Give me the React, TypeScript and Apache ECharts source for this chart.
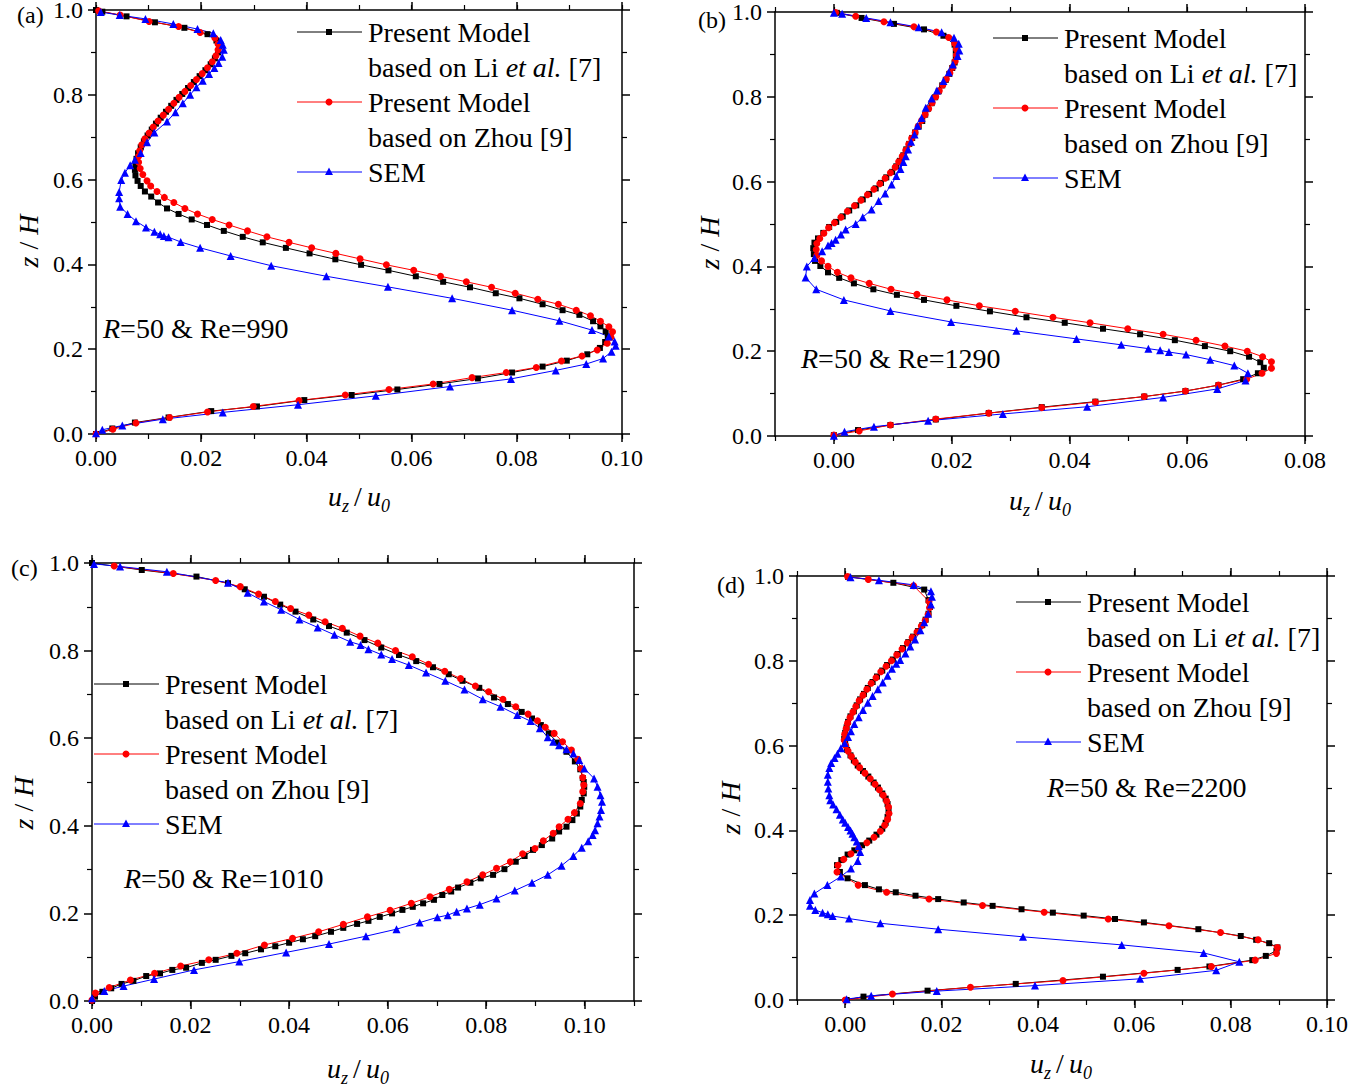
import React, { useEffect, useRef } from "react";
import * as echarts from "echarts";

const FONT = "'Liberation Serif', 'Times New Roman', serif";
const BLACK = "#000000";
const RED = "#ff0000";
const BLUE = "#0000ff";

// ---------- tick labels ----------
const zTicks = [0, 0.2, 0.4, 0.6, 0.8, 1.0];
const xTicksA = [0, 0.02, 0.04, 0.06, 0.08, 0.1];
const xTicksB = [0, 0.02, 0.04, 0.06, 0.08];
const xTicksC = [0, 0.02, 0.04, 0.06, 0.08, 0.1];
const xTicksD = [0, 0.02, 0.04, 0.06, 0.08, 0.1];

// ---------- series names ----------
const seriesNames = ["Present Model based on Li et al. [7]", "Present Model based on Zhou [9]", "SEM"];
const captions = ["R=50 & Re=990", "R=50 & Re=1290", "R=50 & Re=1010", "R=50 & Re=2200"];

// ---------- data: [u_z/u_0, z/H] ----------
const aLi = [[0,0],[0.0031,0.013],[0.0074,0.027],[0.0138,0.039],[0.0219,0.054],[0.0306,0.065],[0.0396,0.08],[0.0486,0.092],[0.0573,0.105],[0.0653,0.118],[0.0726,0.131],[0.0791,0.145],[0.0849,0.159],[0.0895,0.173],[0.0934,0.188],[0.0958,0.203],[0.0968,0.217],[0.0973,0.23],[0.0969,0.242],[0.0959,0.254],[0.0945,0.266],[0.0919,0.281],[0.0887,0.292],[0.0849,0.306],[0.0805,0.32],[0.076,0.332],[0.0711,0.346],[0.066,0.359],[0.0608,0.372],[0.0556,0.386],[0.0504,0.399],[0.0455,0.412],[0.0406,0.426],[0.0361,0.439],[0.0317,0.452],[0.0279,0.465],[0.0243,0.479],[0.0211,0.493],[0.0182,0.506],[0.0157,0.519],[0.0135,0.532],[0.0118,0.546],[0.0105,0.56],[0.0093,0.572],[0.0085,0.585],[0.0079,0.597],[0.0075,0.61],[0.0074,0.623],[0.0075,0.636],[0.0077,0.649],[0.008,0.662],[0.0085,0.676],[0.0091,0.69],[0.0098,0.704],[0.0106,0.718],[0.0114,0.732],[0.0123,0.746],[0.0133,0.76],[0.0143,0.774],[0.0153,0.788],[0.0164,0.802],[0.0175,0.816],[0.0186,0.83],[0.0197,0.844],[0.0208,0.858],[0.0218,0.872],[0.0226,0.886],[0.0232,0.9],[0.0234,0.914],[0.0229,0.928],[0.0212,0.943],[0.0168,0.958],[0.0112,0.971],[0.0058,0.985],[0.0012,0.996],[0,1]];
const aZhou = [[0,0],[0.0032,0.011],[0.0076,0.026],[0.014,0.039],[0.0212,0.052],[0.0299,0.065],[0.0386,0.079],[0.0474,0.092],[0.0557,0.105],[0.0641,0.118],[0.0715,0.133],[0.078,0.145],[0.0837,0.157],[0.0885,0.172],[0.0924,0.184],[0.0953,0.198],[0.0972,0.214],[0.0979,0.228],[0.0982,0.241],[0.0975,0.253],[0.0959,0.266],[0.094,0.279],[0.0913,0.292],[0.0879,0.306],[0.084,0.318],[0.0797,0.332],[0.0752,0.346],[0.0704,0.359],[0.0655,0.372],[0.0604,0.386],[0.0552,0.399],[0.0502,0.413],[0.0456,0.426],[0.041,0.439],[0.0367,0.452],[0.0325,0.465],[0.0288,0.479],[0.0253,0.493],[0.0221,0.506],[0.0193,0.519],[0.0169,0.532],[0.0148,0.546],[0.013,0.558],[0.0116,0.572],[0.0104,0.585],[0.0097,0.597],[0.0089,0.612],[0.0084,0.626],[0.0081,0.641],[0.0081,0.655],[0.0083,0.668],[0.0087,0.682],[0.0093,0.696],[0.0101,0.71],[0.0109,0.724],[0.0118,0.738],[0.0128,0.752],[0.0138,0.766],[0.0148,0.78],[0.0158,0.794],[0.0169,0.808],[0.018,0.822],[0.0191,0.836],[0.0202,0.85],[0.0212,0.864],[0.0221,0.878],[0.0228,0.892],[0.0232,0.906],[0.0232,0.92],[0.0226,0.934],[0.0198,0.947],[0.0157,0.961],[0.0101,0.973],[0.0046,0.988],[0.0005,0.998]];
const aSem = [[0,0.002],[0.0012,0.01],[0.005,0.02],[0.0127,0.035],[0.0241,0.051],[0.0384,0.069],[0.0532,0.09],[0.0673,0.112],[0.0789,0.13],[0.0874,0.15],[0.0932,0.165],[0.0964,0.178],[0.098,0.194],[0.0988,0.208],[0.0986,0.218],[0.0975,0.23],[0.0943,0.245],[0.0881,0.267],[0.0791,0.292],[0.0677,0.32],[0.0555,0.347],[0.0438,0.372],[0.0333,0.397],[0.0256,0.42],[0.0198,0.439],[0.0161,0.453],[0.0138,0.464],[0.0129,0.467],[0.0122,0.471],[0.0111,0.477],[0.0095,0.487],[0.0076,0.502],[0.006,0.519],[0.0046,0.536],[0.0044,0.556],[0.0044,0.571],[0.0048,0.599],[0.0055,0.616],[0.0065,0.634],[0.0074,0.647],[0.0085,0.663],[0.0097,0.688],[0.0111,0.711],[0.0135,0.737],[0.0151,0.759],[0.0165,0.78],[0.0179,0.8],[0.0191,0.818],[0.0203,0.833],[0.0215,0.849],[0.0225,0.863],[0.0233,0.875],[0.024,0.89],[0.0243,0.906],[0.0241,0.918],[0.0237,0.929],[0.0223,0.945],[0.0193,0.955],[0.0147,0.967],[0.0094,0.979],[0.0045,0.988],[0.0009,0.995]];

const bLi = [[0,0.002],[0.0041,0.014],[0.0096,0.026],[0.0173,0.039],[0.0263,0.054],[0.0353,0.068],[0.0444,0.081],[0.0527,0.093],[0.0597,0.106],[0.0653,0.12],[0.0695,0.134],[0.072,0.148],[0.073,0.161],[0.0724,0.174],[0.0705,0.187],[0.0673,0.2],[0.063,0.212],[0.0579,0.226],[0.052,0.24],[0.0457,0.253],[0.0392,0.267],[0.0327,0.28],[0.0265,0.294],[0.0208,0.307],[0.0153,0.321],[0.0107,0.333],[0.0067,0.346],[0.0034,0.36],[0.0009,0.373],[-0.001,0.386],[-0.0023,0.401],[-0.0032,0.413],[-0.0034,0.429],[-0.0035,0.443],[-0.0033,0.456],[-0.0027,0.466],[-0.0018,0.479],[-0.0008,0.493],[0.0004,0.505],[0.0015,0.518],[0.0026,0.532],[0.0038,0.544],[0.0049,0.558],[0.006,0.571],[0.0071,0.584],[0.008,0.597],[0.0089,0.61],[0.0099,0.623],[0.0106,0.636],[0.0112,0.649],[0.0118,0.662],[0.0123,0.676],[0.0128,0.689],[0.0133,0.703],[0.0138,0.716],[0.0144,0.73],[0.015,0.743],[0.0155,0.758],[0.016,0.772],[0.0166,0.785],[0.0172,0.799],[0.0178,0.813],[0.0184,0.827],[0.019,0.84],[0.0196,0.854],[0.0201,0.868],[0.0205,0.881],[0.0207,0.895],[0.0207,0.909],[0.0205,0.923],[0.0186,0.944],[0.0153,0.959],[0.0102,0.972],[0.0047,0.986],[0.0005,0.998]];
const bZhou = [[0,0.002],[0.0043,0.012],[0.0096,0.026],[0.0173,0.04],[0.0263,0.054],[0.0353,0.067],[0.0444,0.08],[0.0527,0.093],[0.0597,0.106],[0.0653,0.12],[0.0701,0.134],[0.0727,0.148],[0.0743,0.16],[0.0743,0.175],[0.0728,0.187],[0.0702,0.2],[0.0664,0.212],[0.0615,0.226],[0.0559,0.24],[0.0499,0.253],[0.0435,0.267],[0.0372,0.28],[0.0308,0.294],[0.0247,0.307],[0.0192,0.321],[0.0141,0.334],[0.0097,0.346],[0.006,0.36],[0.0029,0.373],[0.0006,0.386],[-0.001,0.4],[-0.0021,0.413],[-0.0029,0.426],[-0.003,0.44],[-0.0029,0.454],[-0.0024,0.466],[-0.0017,0.478],[-0.0009,0.491],[0.0001,0.503],[0.0012,0.516],[0.0023,0.53],[0.0035,0.543],[0.0046,0.556],[0.0057,0.569],[0.0068,0.582],[0.0078,0.595],[0.0087,0.608],[0.0096,0.621],[0.0104,0.634],[0.011,0.647],[0.0116,0.66],[0.0122,0.674],[0.0127,0.688],[0.0132,0.702],[0.0138,0.716],[0.0143,0.73],[0.0149,0.744],[0.0155,0.758],[0.0161,0.772],[0.0167,0.786],[0.0173,0.8],[0.0179,0.814],[0.0185,0.828],[0.0191,0.842],[0.0197,0.856],[0.0202,0.87],[0.0206,0.884],[0.0208,0.898],[0.0208,0.912],[0.0205,0.926],[0.0195,0.94],[0.0174,0.953],[0.0136,0.965],[0.0085,0.977],[0.0037,0.99],[0.0003,0.999]];
const bSem = [[0,0.0004],[0.0018,0.01],[0.0068,0.022],[0.016,0.036],[0.0287,0.052],[0.043,0.069],[0.0559,0.091],[0.0651,0.111],[0.0699,0.131],[0.0703,0.148],[0.068,0.166],[0.0639,0.18],[0.0598,0.192],[0.0569,0.198],[0.0554,0.202],[0.0534,0.206],[0.0488,0.215],[0.0412,0.229],[0.031,0.248],[0.0199,0.269],[0.0096,0.295],[0.0017,0.321],[-0.003,0.346],[-0.0048,0.374],[-0.0046,0.4],[-0.0033,0.42],[-0.002,0.436],[-0.001,0.449],[-0.0004,0.455],[0.0003,0.463],[0.0012,0.475],[0.002,0.487],[0.0037,0.5],[0.0049,0.516],[0.0064,0.534],[0.0076,0.554],[0.0087,0.572],[0.0098,0.593],[0.0106,0.613],[0.0113,0.63],[0.0118,0.646],[0.0122,0.66],[0.0126,0.676],[0.0131,0.694],[0.0137,0.711],[0.0142,0.732],[0.0149,0.75],[0.0156,0.774],[0.0166,0.796],[0.0175,0.815],[0.0186,0.837],[0.0195,0.858],[0.0202,0.876],[0.021,0.896],[0.0213,0.909],[0.0212,0.925],[0.0204,0.939],[0.0183,0.952],[0.0144,0.964],[0.0096,0.976],[0.0055,0.986],[0.0014,0.996],[0,0.998]];

const cLi = [[0,0],[0.0006,0.01],[0.0021,0.021],[0.0039,0.029],[0.006,0.039],[0.0084,0.046],[0.011,0.057],[0.0138,0.063],[0.0163,0.071],[0.0191,0.076],[0.0223,0.087],[0.0251,0.094],[0.0283,0.103],[0.0311,0.109],[0.0343,0.118],[0.0372,0.125],[0.04,0.133],[0.0428,0.141],[0.0453,0.148],[0.0485,0.158],[0.051,0.167],[0.0538,0.176],[0.0561,0.183],[0.0584,0.192],[0.0609,0.2],[0.063,0.208],[0.0651,0.215],[0.0672,0.223],[0.0694,0.231],[0.0711,0.242],[0.0729,0.25],[0.0743,0.259],[0.0768,0.27],[0.0789,0.28],[0.0814,0.288],[0.0837,0.301],[0.086,0.318],[0.0878,0.331],[0.0895,0.345],[0.0913,0.356],[0.0934,0.371],[0.0948,0.387],[0.0963,0.398],[0.0975,0.413],[0.0984,0.428],[0.0991,0.444],[0.0994,0.459],[0.0998,0.474],[0.0999,0.489],[0.0998,0.5],[0.0996,0.509],[0.0991,0.529],[0.098,0.547],[0.0963,0.569],[0.0945,0.59],[0.0927,0.611],[0.0911,0.63],[0.0893,0.645],[0.0872,0.66],[0.0844,0.678],[0.0816,0.693],[0.0786,0.715],[0.0752,0.731],[0.0724,0.746],[0.0692,0.762],[0.0658,0.776],[0.0623,0.79],[0.0587,0.807],[0.0553,0.824],[0.0517,0.841],[0.0481,0.856],[0.0449,0.871],[0.0413,0.889],[0.0382,0.905],[0.0349,0.923],[0.031,0.94],[0.0276,0.954],[0.0212,0.969],[0.0101,0.984],[0,1]];
const cZhou = [[0,0.002],[0.0007,0.018],[0.0035,0.031],[0.0078,0.048],[0.0127,0.063],[0.018,0.08],[0.0237,0.094],[0.0294,0.109],[0.035,0.128],[0.0407,0.143],[0.046,0.158],[0.051,0.175],[0.0559,0.192],[0.0605,0.207],[0.0648,0.223],[0.0686,0.238],[0.0725,0.255],[0.0761,0.272],[0.0793,0.288],[0.0821,0.303],[0.0849,0.318],[0.0874,0.336],[0.0899,0.348],[0.0916,0.366],[0.0936,0.383],[0.0948,0.398],[0.0966,0.415],[0.0979,0.43],[0.0991,0.451],[0.0996,0.478],[0.0998,0.493],[0.0996,0.51],[0.0992,0.531],[0.0986,0.552],[0.0973,0.573],[0.0955,0.592],[0.0938,0.611],[0.092,0.625],[0.0904,0.64],[0.0885,0.655],[0.086,0.672],[0.0834,0.689],[0.0805,0.706],[0.0778,0.719],[0.0748,0.736],[0.0716,0.753],[0.0683,0.769],[0.065,0.786],[0.0616,0.8],[0.058,0.817],[0.0544,0.833],[0.0508,0.851],[0.0473,0.866],[0.044,0.881],[0.0403,0.896],[0.0372,0.912],[0.0338,0.929],[0.0301,0.946],[0.0251,0.96],[0.0165,0.976],[0.0045,0.993]];
const cSem = [[0,0.006],[0.0025,0.023],[0.0064,0.034],[0.0126,0.05],[0.0207,0.071],[0.0299,0.09],[0.0394,0.111],[0.0481,0.13],[0.0556,0.148],[0.0618,0.164],[0.0665,0.179],[0.0701,0.191],[0.0722,0.196],[0.074,0.204],[0.0761,0.211],[0.0787,0.22],[0.0821,0.234],[0.0858,0.252],[0.0893,0.27],[0.0925,0.288],[0.0953,0.309],[0.0977,0.331],[0.0994,0.35],[0.1007,0.365],[0.1016,0.379],[0.1021,0.39],[0.1026,0.406],[0.103,0.421],[0.1033,0.436],[0.1035,0.455],[0.1032,0.47],[0.1026,0.489],[0.1019,0.508],[0.0999,0.531],[0.0989,0.55],[0.0977,0.565],[0.0963,0.575],[0.0948,0.584],[0.0936,0.592],[0.0925,0.602],[0.0909,0.623],[0.089,0.639],[0.0863,0.653],[0.0829,0.672],[0.0793,0.689],[0.0756,0.711],[0.0717,0.731],[0.0678,0.75],[0.0643,0.767],[0.0609,0.781],[0.0587,0.791],[0.0561,0.803],[0.0545,0.813],[0.0524,0.82],[0.0492,0.836],[0.0458,0.853],[0.0421,0.871],[0.0384,0.893],[0.0349,0.912],[0.0316,0.932],[0.0276,0.955],[0.0152,0.98],[0.0057,0.992],[0.0004,0.998]];

const dLi = [[0.0003,0],[0.0038,0.008],[0.0171,0.022],[0.0354,0.038],[0.0535,0.055],[0.069,0.071],[0.0756,0.079],[0.0845,0.094],[0.0873,0.104],[0.0895,0.116],[0.0897,0.124],[0.088,0.134],[0.0853,0.142],[0.0821,0.151],[0.0733,0.167],[0.062,0.183],[0.056,0.191],[0.0495,0.199],[0.0431,0.206],[0.0366,0.214],[0.0306,0.222],[0.0246,0.23],[0.0193,0.238],[0.0146,0.246],[0.0105,0.254],[0.007,0.261],[0.0041,0.271],[0.0005,0.287],[-0.0011,0.302],[-0.0017,0.318],[-0.0008,0.33],[0.0005,0.343],[0.0019,0.353],[0.0035,0.365],[0.005,0.376],[0.0065,0.39],[0.0077,0.404],[0.0084,0.418],[0.0088,0.432],[0.009,0.448],[0.0088,0.462],[0.0084,0.475],[0.0077,0.487],[0.0068,0.501],[0.0059,0.513],[0.0048,0.527],[0.0037,0.54],[0.0026,0.553],[0.0018,0.565],[0.0011,0.577],[0.0004,0.59],[0,0.604],[-0.0002,0.616],[0,0.63],[0.0003,0.643],[0.0006,0.656],[0.0011,0.669],[0.0018,0.681],[0.0024,0.695],[0.0031,0.709],[0.0039,0.722],[0.0047,0.736],[0.0057,0.75],[0.0066,0.763],[0.0077,0.777],[0.0087,0.79],[0.0099,0.803],[0.0109,0.816],[0.012,0.83],[0.0131,0.844],[0.0141,0.857],[0.0151,0.87],[0.016,0.884],[0.0167,0.897],[0.0173,0.911],[0.0176,0.927],[0.0173,0.943],[0.0164,0.968],[0.01,0.984],[0.0006,0.998]];
const dZhou = [[0,0],[0.0098,0.014],[0.026,0.03],[0.0452,0.046],[0.062,0.063],[0.076,0.079],[0.0851,0.094],[0.0895,0.11],[0.0897,0.124],[0.0857,0.142],[0.0779,0.159],[0.0672,0.175],[0.0546,0.191],[0.0413,0.207],[0.0285,0.223],[0.0174,0.238],[0.0086,0.254],[0.0027,0.271],[-0.0017,0.302],[-0.0015,0.318],[-0.0003,0.332],[0.0012,0.345],[0.0028,0.358],[0.0045,0.371],[0.006,0.384],[0.0073,0.398],[0.0082,0.412],[0.0088,0.426],[0.0091,0.44],[0.009,0.455],[0.0086,0.469],[0.0079,0.483],[0.0071,0.496],[0.0062,0.509],[0.0052,0.522],[0.0041,0.535],[0.003,0.548],[0.0021,0.561],[0.0013,0.574],[0.0006,0.587],[0.0001,0.6],[-0.0002,0.613],[-0.0001,0.627],[0.0002,0.64],[0.0005,0.653],[0.001,0.666],[0.0016,0.679],[0.0022,0.692],[0.0029,0.706],[0.0037,0.719],[0.0045,0.733],[0.0054,0.747],[0.0064,0.76],[0.0074,0.774],[0.0085,0.787],[0.0096,0.8],[0.0107,0.814],[0.0118,0.828],[0.0129,0.842],[0.0139,0.855],[0.0149,0.868],[0.0158,0.882],[0.0166,0.895],[0.0172,0.909],[0.0175,0.925],[0.0174,0.94],[0.0142,0.977],[0.0048,0.992],[0.0005,0.999]];
const dSem = [[0.0003,0.002],[0.0054,0.01],[0.019,0.021],[0.0394,0.034],[0.0612,0.05],[0.077,0.07],[0.0818,0.09],[0.0744,0.111],[0.0574,0.13],[0.0369,0.149],[0.0193,0.167],[0.0073,0.181],[0.0008,0.192],[-0.0026,0.198],[-0.0036,0.202],[-0.0047,0.206],[-0.0062,0.212],[-0.0073,0.222],[-0.0073,0.236],[-0.0064,0.251],[-0.0037,0.271],[-0.0009,0.291],[0.0012,0.31],[0.0026,0.328],[0.0031,0.349],[0.0028,0.363],[0.0024,0.374],[0.0019,0.384],[0.0015,0.392],[0.0011,0.4],[0.0006,0.408],[0,0.418],[-0.0005,0.426],[-0.0011,0.437],[-0.0018,0.45],[-0.0025,0.461],[-0.0031,0.471],[-0.0033,0.483],[-0.0035,0.499],[-0.0036,0.515],[-0.0036,0.531],[-0.0033,0.547],[-0.0029,0.559],[-0.0022,0.571],[-0.0016,0.581],[-0.0009,0.594],[-0.0001,0.606],[0.0006,0.62],[0.0012,0.634],[0.0019,0.651],[0.0028,0.667],[0.0037,0.684],[0.0047,0.701],[0.0057,0.717],[0.0068,0.733],[0.0078,0.749],[0.0088,0.765],[0.0097,0.781],[0.0106,0.793],[0.0114,0.802],[0.0125,0.817],[0.0135,0.834],[0.0145,0.85],[0.0156,0.872],[0.0164,0.891],[0.0172,0.911],[0.0178,0.933],[0.018,0.951],[0.0178,0.964],[0.0142,0.979],[0.007,0.99],[0.0011,0.997]];

// ---------- layout (not data) ----------
type Panel = {
  grid: { left: number; top: number; width: number; height: number };
  xMin: number; xMax: number; xTicks: number[];
  li: number[][]; zhou: number[][]; sem: number[][];
  legend: [number, number]; caption: [number, number]; tag: [number, number, string];
  xName: [number, number]; yName: [number, number];
};

const panels: Panel[] = [
  { grid: { left: 96, top: 10, width: 526, height: 424 }, xMin: 0, xMax: 0.1, xTicks: xTicksA, li: aLi, zhou: aZhou, sem: aSem,
    legend: [297, 32], caption: [103, 328], tag: [17, 15, "(a)"], xName: [328, 496], yName: [28, 241] },
  { grid: { left: 775, top: 12, width: 530, height: 424 }, xMin: -0.01, xMax: 0.08, xTicks: xTicksB, li: bLi, zhou: bZhou, sem: bSem,
    legend: [993, 38], caption: [801, 358], tag: [698, 20, "(b)"], xName: [1009, 500], yName: [709, 243] },
  { grid: { left: 92, top: 563, width: 542, height: 438 }, xMin: 0, xMax: 0.11, xTicks: xTicksC, li: cLi, zhou: cZhou, sem: cSem,
    legend: [94, 684], caption: [124, 878], tag: [11, 568, "(c)"], xName: [327, 1068], yName: [23, 803] },
  { grid: { left: 797, top: 576, width: 530, height: 424 }, xMin: -0.01, xMax: 0.1, xTicks: xTicksD, li: dLi, zhou: dZhou, sem: dSem,
    legend: [1016, 602], caption: [1047, 787], tag: [717, 585, "(d)"], xName: [1030, 1063], yName: [730, 808] },
];

const axisLineStyle = { color: BLACK, width: 1.5 };
const minorLineStyle = { color: BLACK, width: 1.2 };

function buildOption() {
  const grid: any[] = [];
  const xAxis: any[] = [];
  const yAxis: any[] = [];
  const series: any[] = [];
  const graphic: any[] = [];

  panels.forEach((p, i) => {
    grid.push({ ...p.grid, containLabel: false, outerBoundsMode: "none" });
    const baseX = {
      type: "value", gridIndex: i, min: p.xMin, max: p.xMax, interval: 0.01,
      splitLine: { show: false }, minorSplitLine: { show: false },
    };
    // bottom major
    xAxis.push({
      ...baseX, position: "bottom",
      axisLine: { show: true, onZero: false, lineStyle: axisLineStyle },
      axisTick: { show: true, inside: false, length: 8, customValues: p.xTicks, lineStyle: axisLineStyle },
      axisLabel: { show: true, customValues: p.xTicks, margin: 13, fontSize: 24, lineHeight: 22, fontFamily: FONT, color: BLACK,
        formatter: (v: number) => v.toFixed(2) },
    });
    // bottom minor
    xAxis.push({
      ...baseX, position: "bottom",
      axisLine: { show: false, onZero: false },
      axisTick: { show: true, inside: false, length: 5, lineStyle: minorLineStyle },
      axisLabel: { show: false },
    });
    // top major
    xAxis.push({
      ...baseX, position: "top",
      axisLine: { show: true, onZero: false, lineStyle: axisLineStyle },
      axisTick: { show: true, inside: false, length: 8, customValues: p.xTicks, lineStyle: axisLineStyle },
      axisLabel: { show: false },
    });
    // top minor
    xAxis.push({
      ...baseX, position: "top",
      axisLine: { show: false, onZero: false },
      axisTick: { show: true, inside: false, length: 5, lineStyle: minorLineStyle },
      axisLabel: { show: false },
    });
    const baseY = {
      type: "value", gridIndex: i, min: 0, max: 1, interval: 0.2,
      splitLine: { show: false }, minorSplitLine: { show: false },
      axisLine: { show: true, onZero: false, lineStyle: axisLineStyle },
      axisTick: { show: true, inside: false, length: 8, lineStyle: axisLineStyle },
      minorTick: { show: true, splitNumber: 2, length: 5, lineStyle: minorLineStyle },
    };
    yAxis.push({
      ...baseY, position: "left",
      axisLabel: { show: true, margin: 13, fontSize: 24, lineHeight: 18, fontFamily: FONT, color: BLACK,
        formatter: (v: number) => v.toFixed(1) },
    });
    yAxis.push({ ...baseY, position: "right", axisLabel: { show: false } });

    const xi = i * 4;
    const yi = i * 2;
    const mk = (name: string, data: number[][], color: string, symbol: string, size: number) => ({
      type: "line", name, data, xAxisIndex: xi, yAxisIndex: yi,
      symbol, symbolSize: size, showSymbol: true, showAllSymbol: true, clip: false,
      lineStyle: { color, width: 1 }, itemStyle: { color },
      emphasis: { disabled: true },
    });
    series.push(mk(seriesNames[0], p.li, BLACK, "rect", 6));
    series.push(mk(seriesNames[1], p.zhou, RED, "circle", 7));
    series.push(mk(seriesNames[2], p.sem, BLUE, "triangle", 8));

    // ----- legend (drawn) -----
    const [lx, ly] = p.legend;
    const rowGap = 35;
    const textX = lx + 71;
    const mcx = lx + 32;
    const rows = [
      "Present Model",
      "based on Li {i|et al.} [7]",
      "Present Model",
      "based on Zhou [9]",
      "SEM",
    ];
    rows.forEach((t, k) => {
      graphic.push({
        type: "text", x: textX, y: ly + k * rowGap, silent: true,
        style: {
          text: t, fill: BLACK, fontSize: 28, fontFamily: FONT,
          align: "left", verticalAlign: "middle", textAlign: "left", textVerticalAlign: "middle",
          rich: { i: { fontStyle: "italic", fontSize: 28, fontFamily: FONT, fill: BLACK } },
        },
      });
    });
    const lineRow = (k: number, color: string) => ({
      type: "line", silent: true,
      shape: { x1: lx, y1: ly + k * rowGap, x2: lx + 65, y2: ly + k * rowGap },
      style: { stroke: color, lineWidth: 1 },
    });
    graphic.push(lineRow(0, BLACK));
    graphic.push({ type: "rect", silent: true, shape: { x: mcx - 3, y: ly - 3, width: 6, height: 6 }, style: { fill: BLACK } });
    graphic.push(lineRow(2, RED));
    graphic.push({ type: "circle", silent: true, shape: { cx: mcx, cy: ly + 2 * rowGap, r: 3.5 }, style: { fill: RED } });
    graphic.push(lineRow(4, BLUE));
    const ty = ly + 4 * rowGap;
    graphic.push({ type: "polygon", silent: true, shape: { points: [[mcx, ty - 4.5], [mcx - 4, ty + 3], [mcx + 4, ty + 3]] }, style: { fill: BLUE } });

    // ----- caption -----
    const cap = captions[i].replace(/^R/, "{i|R}");
    graphic.push({
      type: "text", x: p.caption[0], y: p.caption[1], silent: true,
      style: {
        text: cap, fill: BLACK, fontSize: 28, fontFamily: FONT,
        align: "left", verticalAlign: "middle", textAlign: "left", textVerticalAlign: "middle",
        rich: { i: { fontStyle: "italic", fontSize: 28, fontFamily: FONT, fill: BLACK } },
      },
    });
    // ----- panel tag -----
    graphic.push({
      type: "text", x: p.tag[0], y: p.tag[1], silent: true,
      style: { text: p.tag[2], fill: BLACK, fontSize: 24, fontFamily: FONT,
        align: "left", verticalAlign: "middle", textAlign: "left", textVerticalAlign: "middle" },
    });
    // ----- y axis name -----
    graphic.push({
      type: "text", x: p.yName[0], y: p.yName[1], rotation: Math.PI / 2, silent: true,
      style: {
        text: "{i|z} / {i|H}", fill: BLACK, fontSize: 28, fontFamily: FONT,
        align: "center", verticalAlign: "middle", textAlign: "center", textVerticalAlign: "middle",
        rich: { i: { fontStyle: "italic", fontSize: 28, fontFamily: FONT, fill: BLACK } },
      },
    });
    // ----- x axis name: u_z / u_0 -----
    const [nx, ny] = p.xName;
    const piece = (t: string, dx: number, dy: number, size: number, italic: boolean) => ({
      type: "text", x: nx + dx, y: ny + dy, silent: true,
      style: { text: t, fill: BLACK, fontSize: size, fontFamily: FONT, fontStyle: italic ? "italic" : "normal",
        align: "left", verticalAlign: "middle", textAlign: "left", textVerticalAlign: "middle" },
    });
    graphic.push(piece("u", 0, 0, 28, true));
    graphic.push(piece("z", 14, 10, 18, true));
    graphic.push(piece("/", 26, 0, 28, false));
    graphic.push(piece("u", 39, 0, 28, true));
    graphic.push(piece("0", 53, 10, 18, true));
  });

  return {
    animation: false,
    backgroundColor: "#ffffff",
    textStyle: { fontFamily: FONT },
    grid, xAxis, yAxis, series, graphic,
  };
}

export default function App() {
  const ref = useRef<HTMLDivElement>(null);
  useEffect(() => {
    if (!ref.current) return;
    const chart = echarts.init(ref.current, null, { renderer: "svg" });
    chart.setOption(buildOption() as any);
    return () => chart.dispose();
  }, []);
  return (
    <div
      ref={ref}
      style={{ position: "absolute", left: 0, top: 0, width: 1360, height: 1087, background: "#ffffff" }}
    />
  );
}
